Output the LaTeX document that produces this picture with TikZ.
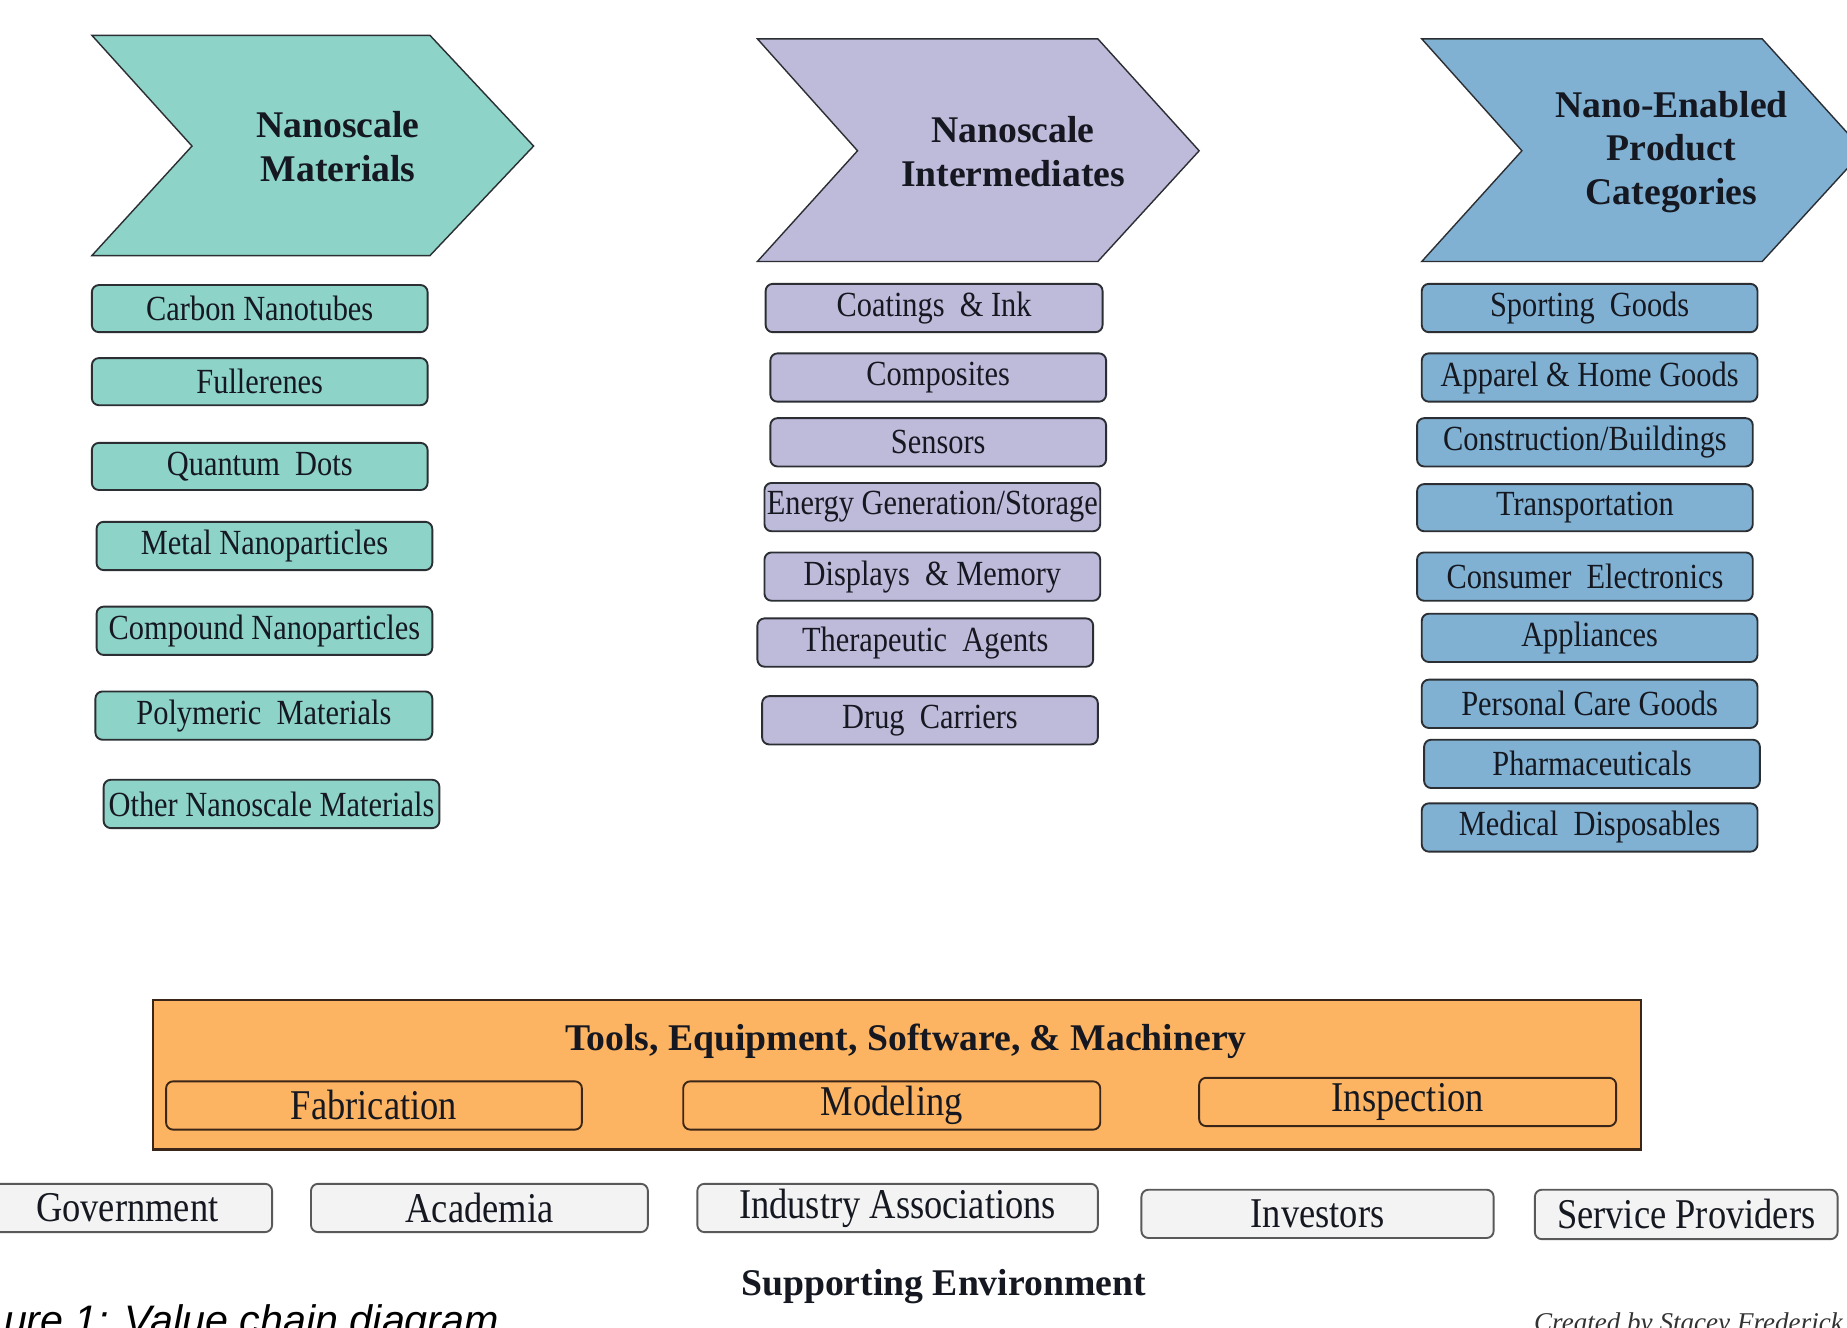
\documentclass[tikz,border=0pt]{standalone}
\usepackage{fontspec}
\setmainfont{Liberation Serif}
\newfontfamily\labfont{Liberation Serif}[FakeStretch=0.86]
\newfontfamily\capfont{Liberation Sans}
\usetikzlibrary{fit}

\definecolor{mattone}{HTML}{8DD3C7}
\definecolor{midtone}{HTML}{BEBADA}
\definecolor{prodtone}{HTML}{80B1D3}
\definecolor{tooltone}{HTML}{FDB462}
\definecolor{envtone}{HTML}{F3F3F3}
\definecolor{edgeline}{HTML}{2B2F33}
\definecolor{tooledge}{HTML}{3A2618}
\definecolor{inkcol}{HTML}{151820}

\tikzset{
  chevron/.style={draw=edgeline, line width=0.6pt, line join=miter},
  headtxt/.style={align=center, text=inkcol,
    font=\bfseries\fontsize{16}{18.5}\selectfont},
  smalltxt/.style={inner sep=0pt, text=inkcol, font=\labfont\fontsize{15}{18}\selectfont},
  bigtxt/.style={inner sep=0pt, text=inkcol, font=\labfont\fontsize{18}{21}\selectfont},
  item/.style={draw=edgeline, line width=0.8pt, rounded corners=3pt, inner sep=0pt},
  matbox/.style={item, fill=mattone, label={[smalltxt]center:#1}},
  midbox/.style={item, fill=midtone, label={[smalltxt]center:#1}},
  prodbox/.style={item, fill=prodtone, label={[smalltxt]center:#1}},
  toolbox/.style={item, draw=tooledge, fill=tooltone, label={[bigtxt]center:#1}},
  envbox/.style={item, draw=black!65, fill=envtone, label={[bigtxt]center:#1}},
}

\begin{document}
\begin{tikzpicture}[x=0.5pt, y=-0.5pt]
\useasboundingbox (0,0) rectangle (1568,1127);
\clip (0,0) rectangle (1568,1127);
\fill[white] (0,0) rectangle (1568,1127);

% ---- value chain stages ----
\draw[chevron, fill=mattone]
  (78,30) -- (365,30) -- (453,124) -- (365,217) -- (78,217) -- (163,124) -- cycle;
\node[headtxt] (hmat) at (287,124.5) {Nanoscale\\Materials};

\draw[chevron, fill=midtone]
  (643,33) -- (932,33) -- (1018,128) -- (932,222) -- (643,222) -- (728,128) -- cycle;
\node[headtxt] (hmid) at (860,128.5) {Nanoscale\\Intermediates};

\draw[chevron, fill=prodtone]
  (1207,33) -- (1496,33) -- (1582,128) -- (1496,222) -- (1207,222) -- (1292,128) -- cycle;
\node[headtxt] (hprod) at (1419,129) {Nano-Enabled\\Product\\Categories};

% ---- nanoscale materials ----
\node[matbox={Carbon Nanotubes}, fit={(78,242) (363,282)}]  (m1) {};
\node[matbox={Fullerenes}, fit={(78,304) (363,344)}]  (m2) {};
\node[matbox={Quantum\ \ Dots}, fit={(78,376) (363,416)}]  (m3) {};
\node[matbox={Metal Nanoparticles}, fit={(82,443) (367,484)}]  (m4) {};
\node[matbox={Compound Nanoparticles}, fit={(82,515) (367,556)}]  (m5) {};
\node[matbox={Polymeric\ \ Materials}, fit={(81,587) (367,628)}]  (m6) {};
\node[matbox={Other Nanoscale Materials}, fit={(88,662) (373,703)}]  (m7) {};

% ---- nanoscale intermediates ----
\node[midbox={Coatings\ \ \& Ink}, fit={(650,241) (936,282)}] (i1) {};
\node[midbox={Composites}, fit={(654,300) (939,341)}] (i2) {};
\node[midbox={Sensors}, fit={(654,355) (939,396)}] (i3) {};
\node[midbox={Energy Generation/Storage}, fit={(649,410) (934,451)}] (i4) {};
\node[midbox={Displays\ \ \& Memory}, fit={(649,469) (934,510)}] (i5) {};
\node[midbox={Therapeutic\ \ Agents}, fit={(643,525) (928,566)}] (i6) {};
\node[midbox={Drug\ \ Carriers}, fit={(647,591) (932,632)}] (i7) {};

% ---- product categories ----
\node[prodbox={Sporting\ \ Goods}, fit={(1207,241) (1492,282)}] (p1) {};
\node[prodbox={Apparel \& Home Goods}, fit={(1207,300) (1492,341)}] (p2) {};
\node[prodbox={Construction/Buildings}, fit={(1203,355) (1488,396)}] (p3) {};
\node[prodbox={Transportation}, fit={(1203,411) (1488,451)}] (p4) {};
\node[prodbox={Consumer\ \ Electronics}, fit={(1203,469) (1488,510)}] (p5) {};
\node[prodbox={Appliances}, fit={(1207,521) (1492,562)}] (p6) {};
\node[prodbox={Personal Care Goods}, fit={(1207,577) (1492,618)}] (p7) {};
\node[prodbox={Pharmaceuticals}, fit={(1209,628) (1494,669)}] (p8) {};
\node[prodbox={Medical\ \ Disposables}, fit={(1207,682) (1492,723)}] (p9) {};

% ---- tools band ----
\node[draw=tooledge, line width=1pt, fill=tooltone, inner sep=0pt,
      fit={(130,849) (1393,976)}] (tools) {};
\node[headtxt] (ttitle) at (769,884) {Tools, Equipment, Software, \& Machinery};
\node[toolbox={Fabrication}, fit={(141,918) (494,959)}]   (fab) {};
\node[toolbox={Modeling}, fit={(580,918) (934,959)}]   (mod) {};
\node[toolbox={Inspection}, fit={(1018,915) (1372,956)}] (insp) {};

% ---- supporting environment ----
\node[envbox={Government}, fit={(-15,1005) (231,1046)}]  (gov) {};
\node[envbox={Academia}, fit={(264,1005) (550,1046)}]  (acad) {};
\node[envbox={Industry Associations}, fit={(592,1005) (932,1046)}]  (ind) {};
\node[envbox={Investors}, fit={(969,1010) (1268,1051)}] (inv) {};
\node[envbox={Service Providers}, fit={(1303,1010) (1560,1052)}] (serv) {};
\node[headtxt] (supp) at (801,1092) {Supporting Environment};

% ---- caption and credit ----
\node[anchor=base west, inner sep=0pt, text=black,
      font=\capfont\itshape\fontsize{17.5}{20}\selectfont] (fig) at (3,1133)
  {ure 1: Value chain diagram};
\node[anchor=base west, inner sep=0pt, text=black!80,
      font=\itshape\fontsize{11.5}{14}\selectfont] (cred) at (1302,1130)
  {Created by Stacey Frederick};
\end{tikzpicture}
\end{document}
